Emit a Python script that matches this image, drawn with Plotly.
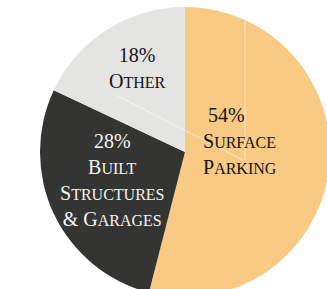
import plotly.graph_objects as go

# ---- data ----
labels = ["Surface Parking", "Built Structures & Garages", "Other"]
values = [54, 28, 18]
label_lines = [["Surface", "Parking"], ["Built", "Structures", "& Garages"], ["Other"]]
colors = ["#F8CA84", "#343432", "#E4E4E3"]
text_colors = ["#141414", "#F4F4F4", "#141414"]

W, H = 340, 304
BIG, SMALL = 20, 16


def sc(phrase):
    """Fake small caps: first letter of each word full size, rest smaller."""
    out = []
    for word in phrase.split(" "):
        if word[0].isalpha():
            out.append(word[0].upper() + f"<span style='font-size:{SMALL}px'>{word[1:].upper()}</span>")
        else:
            out.append(word)
    return " ".join(out)


def px(x, y):
    return x / W, 1 - y / H


fig = go.Figure(go.Pie(
    labels=labels, values=values, sort=False, direction="clockwise", rotation=0,
    marker=dict(colors=colors, line=dict(width=0)),
    textinfo="none", hoverinfo="skip", showlegend=False,
    domain=dict(x=[40 / W, 330 / W], y=[1 - 297 / H, 1 - 7 / H]),
))

# label anchor pixel centers (layout only)
anchors = [(201, 141, "left"), (112, 180, "center"), (137, 68, "center")]
for i, (ax, ay, al) in enumerate(anchors):
    first = f"{values[i]}%"
    if al == "left":
        first = "&nbsp;" + first
    lines = [first] + [sc(l) for l in label_lines[i]]
    x, y = px(ax, ay)
    fig.add_annotation(
        x=x, y=y, xref="paper", yref="paper", showarrow=False,
        text="<br>".join(lines), align=al,
        xanchor="left" if al == "left" else "center", yanchor="middle",
        font=dict(family="Liberation Serif, DejaVu Serif, serif", size=BIG, color=text_colors[i]),
    )

# faint leader lines seen in the reference
for (x0, y0, x1, y1) in [(245, 20, 245, 160), (116, 95, 243, 160)]:
    a = px(x0, y0); b = px(x1, y1)
    fig.add_shape(type="line", xref="paper", yref="paper", x0=a[0], y0=a[1], x1=b[0], y1=b[1],
                  line=dict(color="rgba(255,255,255,0.55)", width=1))

fig.update_layout(width=W, height=H, margin=dict(l=0, r=0, t=0, b=0),
                  paper_bgcolor="white", plot_bgcolor="white")

fig.write_html("out.html", config={"displayModeBar": False},
               post_script="document.body.style.margin='0';document.body.style.overflow='hidden';")
